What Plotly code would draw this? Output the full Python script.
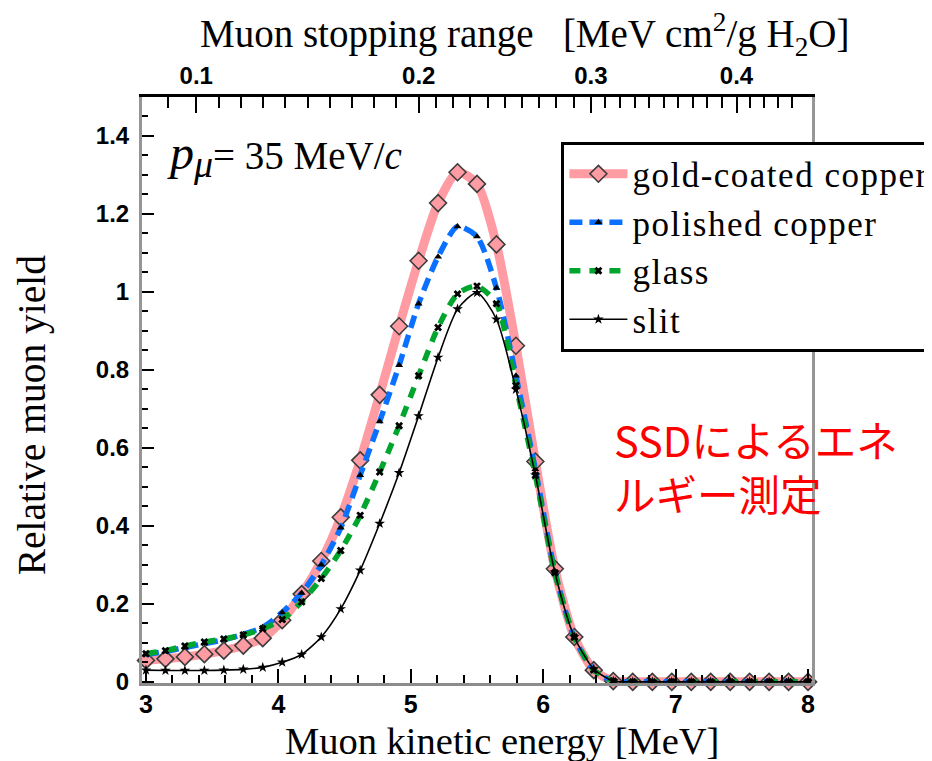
import numpy as np
import plotly.graph_objects as go

# ---- data ----
energy = [3.000, 3.147, 3.294, 3.441, 3.588, 3.735, 3.882, 4.029, 4.176, 4.324,
          4.471, 4.618, 4.765, 4.912, 5.059, 5.206, 5.353, 5.500, 5.647, 5.794,
          5.941, 6.088, 6.235, 6.382, 6.529, 6.676, 6.824, 6.971, 7.118, 7.265,
          7.412, 7.559, 7.706, 7.853, 8.000]

gold_coated = [0.055, 0.059, 0.064, 0.071, 0.080, 0.093, 0.112, 0.158, 0.225, 0.310,
               0.422, 0.568, 0.736, 0.912, 1.080, 1.228, 1.307, 1.277, 1.122, 0.862,
               0.565, 0.290, 0.115, 0.030, 0.002, 0, 0, 0, 0, 0, 0, 0, 0, 0, 0]

polished = [0.070, 0.078, 0.088, 0.098, 0.108, 0.122, 0.140, 0.178, 0.228, 0.300,
            0.395, 0.530, 0.668, 0.812, 0.970, 1.090, 1.168, 1.142, 1.010, 0.785,
            0.545, 0.283, 0.113, 0.030, 0.002, 0, 0, 0, 0, 0, 0, 0, 0, 0, 0]

glass = [0.072, 0.080, 0.092, 0.102, 0.110, 0.120, 0.136, 0.160, 0.205, 0.265,
         0.337, 0.427, 0.538, 0.657, 0.785, 0.909, 0.995, 1.015, 0.970, 0.760,
         0.530, 0.280, 0.115, 0.030, 0.002, 0, 0, 0, 0, 0, 0, 0, 0, 0, 0]

slit = [0.030, 0.029, 0.029, 0.029, 0.030, 0.032, 0.037, 0.050, 0.070, 0.115,
        0.187, 0.286, 0.406, 0.536, 0.682, 0.832, 0.956, 0.998, 0.930, 0.750,
        0.530, 0.281, 0.115, 0.033, 0.002, 0, 0, 0, 0, 0, 0, 0, 0, 0, 0]

# top axis: stopping range labels and their energy positions
range_labels = ["0.1", "0.2", "0.3", "0.4"]
range_energy = [3.38, 5.06, 6.36, 7.46]
# anchor points for placing the 0.01 minor ticks of the top axis
range_anchor = [0.08, 0.1, 0.2, 0.3, 0.4, 0.45]
energy_anchor = [2.96, 3.38, 5.06, 6.36, 7.46, 7.98]
minor_range = [round(0.09 + 0.01 * k, 2) for k in range(36)]
minor_energy = [float(np.interp(v, range_anchor, energy_anchor)) for v in minor_range]
minor_energy = [e for e in minor_energy if 2.97 < e < 8.03]

x_tick_vals = [3, 4, 5, 6, 7, 8]
y_tick_vals = [0, 0.2, 0.4, 0.6, 0.8, 1, 1.2, 1.4]
y_tick_text = ["0", "0.2", "0.4", "0.6", "0.8", "1", "1.2", "1.4"]

names = ["gold-coated copper", "polished copper", "glass", "slit"]

PINK = "rgb(255,155,163)"
BLUE = "rgb(10,112,255)"
GREEN = "rgb(0,165,45)"


def spaced(s):
    return '<span style="letter-spacing:1.5px">' + s + "</span>"


fig = go.Figure()

fig.add_trace(go.Scatter(
    x=energy, y=gold_coated, name=spaced(names[0]), mode="lines+markers",
    line=dict(color=PINK, width=9, shape="spline", smoothing=0.7),
    marker=dict(symbol="diamond", size=13, color=PINK,
                line=dict(color="rgb(60,60,60)", width=1.6)),
    cliponaxis=False, legendgroup="a"))

fig.add_trace(go.Scatter(
    x=energy, y=polished, name=spaced(names[1]), mode="lines+markers",
    line=dict(color=BLUE, width=5.5, dash="13px,7px", shape="spline", smoothing=0.7),
    marker=dict(symbol="triangle-up", size=7, color="black"),
    cliponaxis=False, legendgroup="b"))

fig.add_trace(go.Scatter(
    x=energy, y=glass, name=spaced(names[2]), mode="lines+markers",
    line=dict(color=GREEN, width=5.5, dash="11px,9px", shape="spline", smoothing=0.7),
    marker=dict(symbol="x", size=7, color="black"),
    cliponaxis=False, legendgroup="c"))

fig.add_trace(go.Scatter(
    x=energy, y=slit, name=spaced(names[3]), mode="lines+markers",
    line=dict(color="black", width=1.6, shape="spline", smoothing=0.7),
    marker=dict(symbol="star", size=8, color="black"),
    cliponaxis=False, legendgroup="d"))

# trace on the top axis (no visible points) so that axis is drawn
fig.add_trace(go.Scatter(x=[3, 8], y=[None, None], xaxis="x2", yaxis="y",
                         mode="lines", showlegend=False, hoverinfo="skip"))

serif = "Liberation Serif"
sans = "Liberation Sans"

# the page body has an 8px default margin, so margins are reduced by 8 on left/top;
# the figure is a bit wider than the window so the legend box runs past the right edge
fig.update_layout(
    width=960, height=761,
    margin=dict(l=134, r=156, t=89, b=86, autoexpand=False),
    paper_bgcolor="white", plot_bgcolor="white",
    showlegend=True,
    legend=dict(x=0.626, y=0.924, xanchor="left", yanchor="top",
                bgcolor="white", bordercolor="black", borderwidth=3,
                font=dict(family=serif, size=35, color="black"),
                itemwidth=58, tracegroupgap=0, traceorder="normal",
                entrywidth=340, entrywidthmode="pixels"),
    xaxis=dict(range=[2.97, 8.03], showgrid=False, zeroline=False,
               showline=True, linecolor="rgb(140,140,140)", linewidth=3,
               ticks="inside", ticklen=14, tickwidth=2, tickcolor="black",
               tickmode="array", tickvals=x_tick_vals,
               ticktext=[str(v) for v in x_tick_vals],
               ticklabelstandoff=-3,
               tickfont=dict(family=sans, size=25, color="black", weight="bold"),
               minor=dict(ticks="inside", ticklen=8, tickwidth=1.5, tickcolor="black",
                          dtick=0.2, tick0=3, showgrid=False)),
    xaxis2=dict(range=[2.97, 8.03], overlaying="x", side="top", anchor="y",
                showgrid=False, zeroline=False,
                showline=True, linecolor="black", linewidth=3,
                ticks="inside", ticklen=16, tickwidth=2, tickcolor="black",
                tickmode="array", tickvals=range_energy, ticktext=range_labels,
                tickfont=dict(family=sans, size=24, color="black", weight="bold"),
                minor=dict(ticks="inside", ticklen=11, tickwidth=1.5, tickcolor="black",
                           tickmode="array", tickvals=minor_energy, showgrid=False)),
    yaxis=dict(range=[-0.003, 1.5], showgrid=False, zeroline=False,
               showline=True, linecolor="rgb(150,150,150)", linewidth=3, mirror=True,
               ticks="inside", ticklen=12, tickwidth=2, tickcolor="black",
               tickmode="array", tickvals=y_tick_vals, ticktext=y_tick_text,
               ticklabelstandoff=5,
               tickfont=dict(family=sans, size=24, color="black", weight="bold"),
               minor=dict(ticks="inside", ticklen=6, tickwidth=1.5, tickcolor="black",
                          dtick=0.05, tick0=0, showgrid=False)),
)

fig.add_annotation(text="Muon kinetic energy [MeV]", xref="paper", yref="paper",
                   x=0.537, y=-0.099, xanchor="center", yanchor="middle",
                   showarrow=False, font=dict(family=serif, size=38.5, color="black"))
fig.add_annotation(text="Muon stopping range\u00a0\u00a0\u00a0[MeV cm<sup>2</sup>/g H<sub>2</sub>O]",
                   xref="paper", yref="paper",
                   x=0.5716, y=1.107, xanchor="center", yanchor="middle",
                   showarrow=False, font=dict(family=serif, size=39, color="black"))
fig.add_annotation(text="Relative muon yield", xref="paper", yref="paper",
                   x=-0.164, y=0.457, xanchor="center", yanchor="middle", textangle=-90,
                   showarrow=False, font=dict(family=serif, size=39.5, color="black"))
fig.add_annotation(text="<span style=\"font-size:48px\"><i>p</i></span><sub><span style=\"font-size:38px\"><i>μ</i></span></sub>= 35 MeV/<i>c</i>",
                   xref="paper", yref="paper",
                   x=0.034, y=0.901, xanchor="left", yanchor="middle",
                   showarrow=False, font=dict(family=serif, size=39, color="black"))
fig.add_annotation(text="SSDによるエネ<br>ルギー測定", xref="paper", yref="paper",
                   x=0.7015, y=0.370, xanchor="left", yanchor="middle", align="left",
                   showarrow=False, font=dict(family="Noto Sans CJK JP", size=41.5, color="red"))

fig.write_html("out.html")
